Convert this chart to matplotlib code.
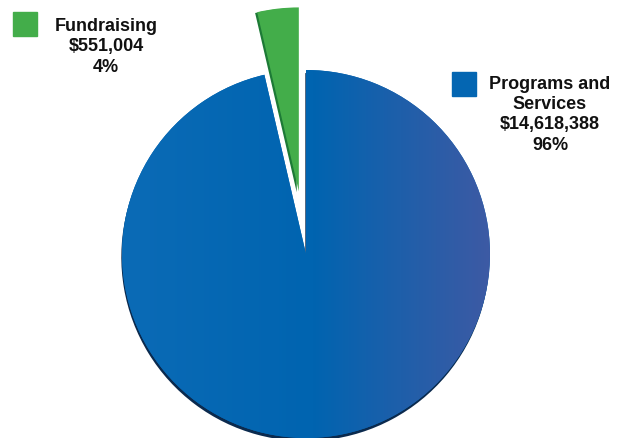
import numpy as np
import matplotlib
matplotlib.use("Agg")
import matplotlib.pyplot as plt
import matplotlib.patheffects as pe
from matplotlib.patches import Rectangle
from matplotlib.colors import LinearSegmentedColormap

# data
cats = ["Fundraising", "Programs and\nServices"]
amounts = [551004, 14618388]
pcts = ["4%", "96%"]
cols = ["#43ad4a", "#0466b2"]
shadow_cols = ["#1d7a36", "#0b2a4e"]

W, H = 628, 439
fig = plt.figure(figsize=(W / 100, H / 100), dpi=100)
ax = fig.add_axes([0, 0, 1, 1])

cx, cy, r = 306, H - 255, 184
wedges, _ = ax.pie(amounts, colors=cols, startangle=90, counterclock=True,
                   explode=[63, 0], radius=r, center=(cx, cy), frame=True,
                   wedgeprops=dict(linewidth=0))
ax.set_xlim(0, W)
ax.set_ylim(0, H)
ax.set_aspect("equal")
ax.axis("off")

wedges[0].set_path_effects([pe.SimplePatchShadow(offset=(-1.5, -0.6), shadow_rgbFace=shadow_cols[0], alpha=1),
                            pe.Normal()])
wedges[1].set_path_effects([pe.SimplePatchShadow(offset=(-0.5, -2.2), shadow_rgbFace=shadow_cols[1], alpha=1),
                            pe.Normal()])

# horizontal gradient on the big slice
cmap = LinearSegmentedColormap.from_list("g", [(0, "#0b6bb6"), (0.52, "#0064b0"), (1, "#3d5aa4")])
grad = np.linspace(0, 1, 256).reshape(1, -1)
im = ax.imshow(grad, cmap=cmap, extent=[cx - r, cx + r, cy - r, cy + r],
               aspect="auto", zorder=wedges[1].get_zorder() + 0.5, interpolation="bicubic")
im.set_clip_path(wedges[1])

# labels
txt = dict(fontsize=13, fontweight="bold", family="Liberation Sans", color="#111111",
           ha="center", va="top", linespacing=1.25)
ax.add_patch(Rectangle((13, H - 37), 24, 24, color=cols[0]))
ax.text(106, H - 18, f"{cats[0]}\n${amounts[0]:,}\n{pcts[0]}", **txt)
ax.add_patch(Rectangle((452, H - 97), 24, 24, color=cols[1]))
ax.text(550, H - 76, f"{cats[1]}\n${amounts[1]:,}\n{pcts[1]}", **txt)

fig.savefig("out.png", dpi=100)
